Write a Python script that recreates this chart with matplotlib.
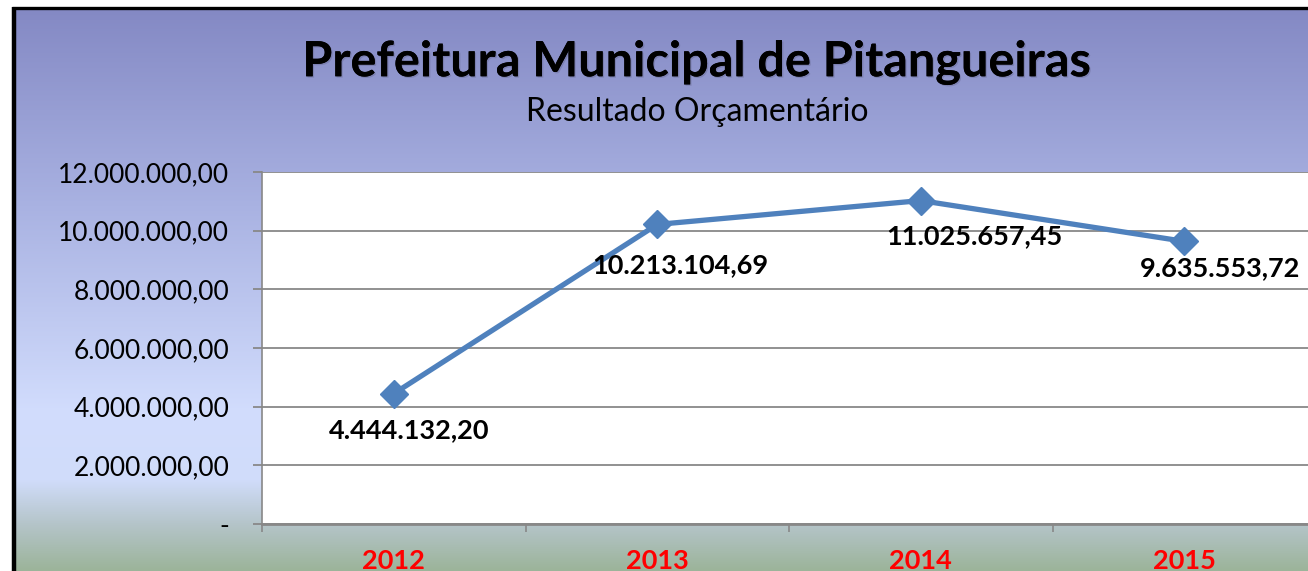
import matplotlib
matplotlib.use("Agg")
import matplotlib.pyplot as plt
import numpy as np
from matplotlib.colors import LinearSegmentedColormap
from matplotlib.lines import Line2D
import matplotlib.patheffects as pe

years = ["2012", "2013", "2014", "2015"]
values = [4444132.20, 10213104.69, 11025657.45, 9635553.72]
yticks = [0, 2000000, 4000000, 6000000, 8000000, 10000000, 12000000]
label_offsets = [(15, -37), (23, -41), (54, -36), (36, -27)]  # pixel offsets for data labels

FONT = "Lato"
W, H = 1308, 571
fig = plt.figure(figsize=(W / 100, H / 100), dpi=100)
fig.patch.set_facecolor("white")

# background gradient panel
bg = fig.add_axes([15 / W, 0, 1 - 15 / W, (H - 9) / H])
bg.set_axis_off()
stops = [(0.0, "#8489c4"), (0.35, "#a9b2e2"), (0.72, "#d2ddfd"), (0.84, "#d0dcfa"),
         (0.92, "#b4c4c8"), (1.0, "#9cb49a")]
cmap = LinearSegmentedColormap.from_list("bg", stops)
grad = np.linspace(0, 1, 256).reshape(-1, 1)
bg.imshow(grad, aspect="auto", cmap=cmap, extent=[0, 1, 0, 1], origin="upper")
bg.set_xlim(0, 1)
bg.set_ylim(0, 1)

# black frame lines (left and top)
fig.add_artist(Line2D([13.5 / W, 13.5 / W], [0, 1 - 7 / H], color="black", lw=3.2,
                      transform=fig.transFigure, solid_capstyle="butt"))
fig.add_artist(Line2D([12 / W, 1], [1 - 8 / H, 1 - 8 / H], color="black", lw=2.4,
                      transform=fig.transFigure, solid_capstyle="butt"))

# titles
shadow = [pe.withSimplePatchShadow(offset=(1, -1), shadow_rgbFace="#555577", alpha=0.3), pe.Normal()]
fig.text(697 / W, 1 - 62 / H, "Prefeitura Municipal de Pitangueiras", ha="center", va="center",
         fontsize=35, fontweight="bold", family=FONT, color="black", path_effects=shadow)
fig.text(697 / W, 1 - 112 / H, "Resultado Orçamentário", ha="center", va="center",
         fontsize=23, family=FONT, color="black")

# plot area
left, right, top, bottom = 262, 1316, 172, 524
ax = fig.add_axes([left / W, (H - bottom) / H, (right - left) / W, (bottom - top) / H])
ax.set_facecolor("white")
x = np.arange(len(years))
ax.set_xlim(-0.5, len(years) - 0.5)
ax.set_ylim(0, 12000000)
ax.set_yticks(yticks)


def fmt(v):
    if v == 0:
        return "-"
    s = f"{v:,.2f}"
    return s.replace(",", "X").replace(".", ",").replace("X", ".")


ax.set_yticklabels([fmt(v) for v in yticks], family=FONT, fontsize=19)
ax.yaxis.grid(True, color="#888888", lw=1.3)
ax.set_axisbelow(True)
ax.set_xticks(x)
ax.set_xticklabels(years, family=FONT, fontsize=19.5, fontweight="bold", color="red")
ax.set_xticks(np.arange(-0.5, len(years)), minor=True)
ax.tick_params(axis="x", which="major", length=0, pad=18)
ax.tick_params(axis="x", which="minor", length=6, color="#888888", width=1.2)
ax.tick_params(axis="y", length=6.5, color="#888888", width=1.3, pad=17)
for s in ["top", "right"]:
    ax.spines[s].set_visible(False)
ax.spines["left"].set_color("#888888")
ax.spines["left"].set_linewidth(1.2)
ax.spines["bottom"].set_color("#888888")
ax.spines["bottom"].set_linewidth(2)

ax.plot(x, values, color="#4f81bd", lw=3.8, marker="D", markersize=14, zorder=3)
for xi, v, (dx, dy) in zip(x, values, label_offsets):
    ax.annotate(fmt(v), (xi, v), xytext=(dx * 0.72, dy * 0.72), textcoords="offset points",
                ha="center", va="center", family=FONT, fontsize=19.5, fontweight="bold",
                color="black", zorder=4)

fig.savefig("out.png", dpi=100)
